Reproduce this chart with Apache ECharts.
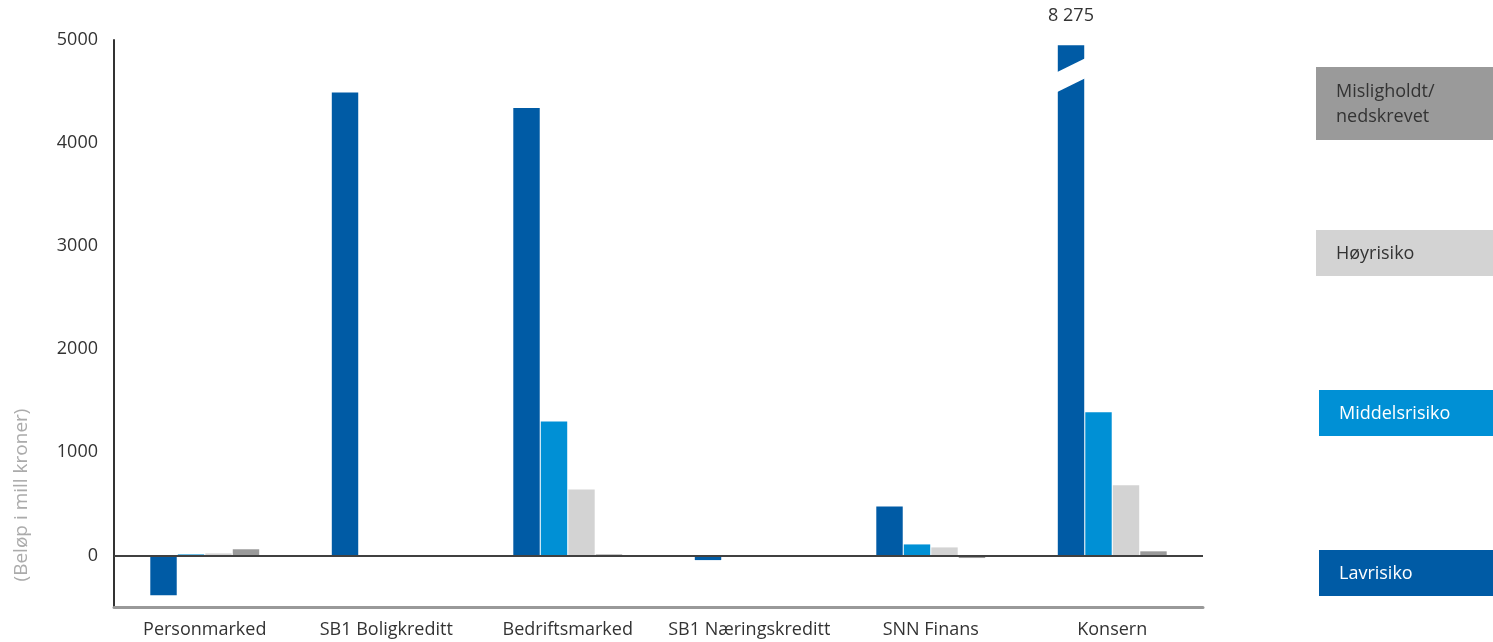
<!DOCTYPE html>
<html><head><meta charset="utf-8">
<script src="https://cdn.jsdelivr.net/npm/echarts@6/dist/echarts.min.js"></script>
<style>html,body{margin:0;padding:0;background:#fff}#c{width:1493px;height:642px}</style>
</head><body><div id="c"></div>
<script>
const categories = ['Personmarked','SB1 Boligkreditt','Bedriftsmarked','SB1 Næringskreditt','SNN Finans','Konsern'];
const seriesNames = ['Lavrisiko','Middelsrisiko','Høyrisiko','Misligholdt/\nnedskrevet'];
const lavrisiko = [-385, 4490, 4340, -45, 475, 8275];
const middelsrisiko = [10, 0, 1300, 0, 107, 1388];
const hoyrisiko = [20, 0, 640, 0, 78, 680];
const mislighold = [60, 0, 10, 0, -25, 40];
const yTicks = [0, 1000, 2000, 3000, 4000, 5000];
const colors = ['#005BA5', '#0090D5', '#D3D3D3', '#9A9A9A'];
const yMax = 5000, yMin = -500;

const chart = echarts.init(document.getElementById('c'));
const font = "'Open Sans', sans-serif";

function capped(arr){ return arr.map(v => v > yMax ? {value: yMax - 50,
  label:{show:true, position:'top', distance:20, formatter: () => String(v).replace(/\B(?=(\d{3})+(?!\d))/g,' '), color:'#333', fontSize:18, fontFamily:font}} : v); }

const all = [lavrisiko, middelsrisiko, hoyrisiko, mislighold];
const series = all.map((arr, i) => ({
  name: seriesNames[i], type: 'bar', data: capped(arr),
  itemStyle: {color: colors[i]}, barGap: '4%', barCategoryGap: '40%',
  animation: false
}));
series[0].markLine = {symbol:'none', silent:true, label:{show:false},
  lineStyle:{color:'#404040', width:2, type:'solid'}, data:[{yAxis:0}], animation:false};

const legendBoxes = [
  {name: seriesNames[3], x:1316, y:67, w:177, h:73, fill: colors[3], tc:'#333'},
  {name: seriesNames[2], x:1316, y:230, w:177, h:46, fill: colors[2], tc:'#333'},
  {name: seriesNames[1], x:1319, y:390, w:174, h:46, fill: colors[1], tc:'#fff'},
  {name: seriesNames[0], x:1319, y:550, w:174, h:46, fill: colors[0], tc:'#fff'}
];
const graphics = [];
legendBoxes.forEach(b => {
  graphics.push({type:'rect', shape:{x:b.x, y:b.y, width:b.w, height:b.h}, style:{fill:b.fill}, silent:true});
  graphics.push({type:'text', x:b.x+20, y:b.y+b.h/2+1, style:{text:b.name, fill:b.tc, font:"18px 'Open Sans', sans-serif", verticalAlign:'middle', align:'left', lineHeight:25}, silent:true});
});
graphics.push({type:'text', x:22, y:495, rotation:Math.PI/2, style:{text:'(Beløp i mill kroner)', fill:'#ababab', font:"19px 'Open Sans', sans-serif", align:'center', verticalAlign:'middle'}, silent:true});

chart.setOption({
  animation: false,
  grid: {left:114, right:290, top:40, bottom:35, containLabel:false},
  xAxis: {type:'category', data: categories,
    axisLine:{onZero:false, lineStyle:{color:'#999', width:3}},
    axisTick:{show:false},
    axisLabel:{interval:0, color:'#333', fontSize:18, fontFamily:font, margin:14}},
  yAxis: {type:'value', min:yMin, max:yMax, interval:500,
    axisLine:{show:true, lineStyle:{color:'#333', width:2}},
    axisTick:{show:false}, splitLine:{show:false},
    axisLabel:{color:'#333', fontSize:18, fontFamily:font, margin:16,
      formatter: v => yTicks.includes(v) ? String(v) : ''}},
  series: series,
  graphic: graphics
});

// axis-break marker on the capped Konsern bar
const idx = lavrisiko.findIndex(v => v > yMax);
if (idx >= 0) {
  const lay = chart.getModel().getSeriesByIndex(0).getData().getItemLayout(idx);
  const x0 = lay.x, x1 = lay.x + lay.width;
  const top = Math.min(lay.y, lay.y + lay.height);
  const a = top + 27, d = 14, g = 20;
  graphics.push({type:'polygon', shape:{points:[[x0-1,a],[x1+1,a-d],[x1+1,a-d+g],[x0-1,a+g]]}, style:{fill:'#fff'}, silent:true, z:100});
  chart.setOption({graphic: graphics});
}
</script></body></html>
